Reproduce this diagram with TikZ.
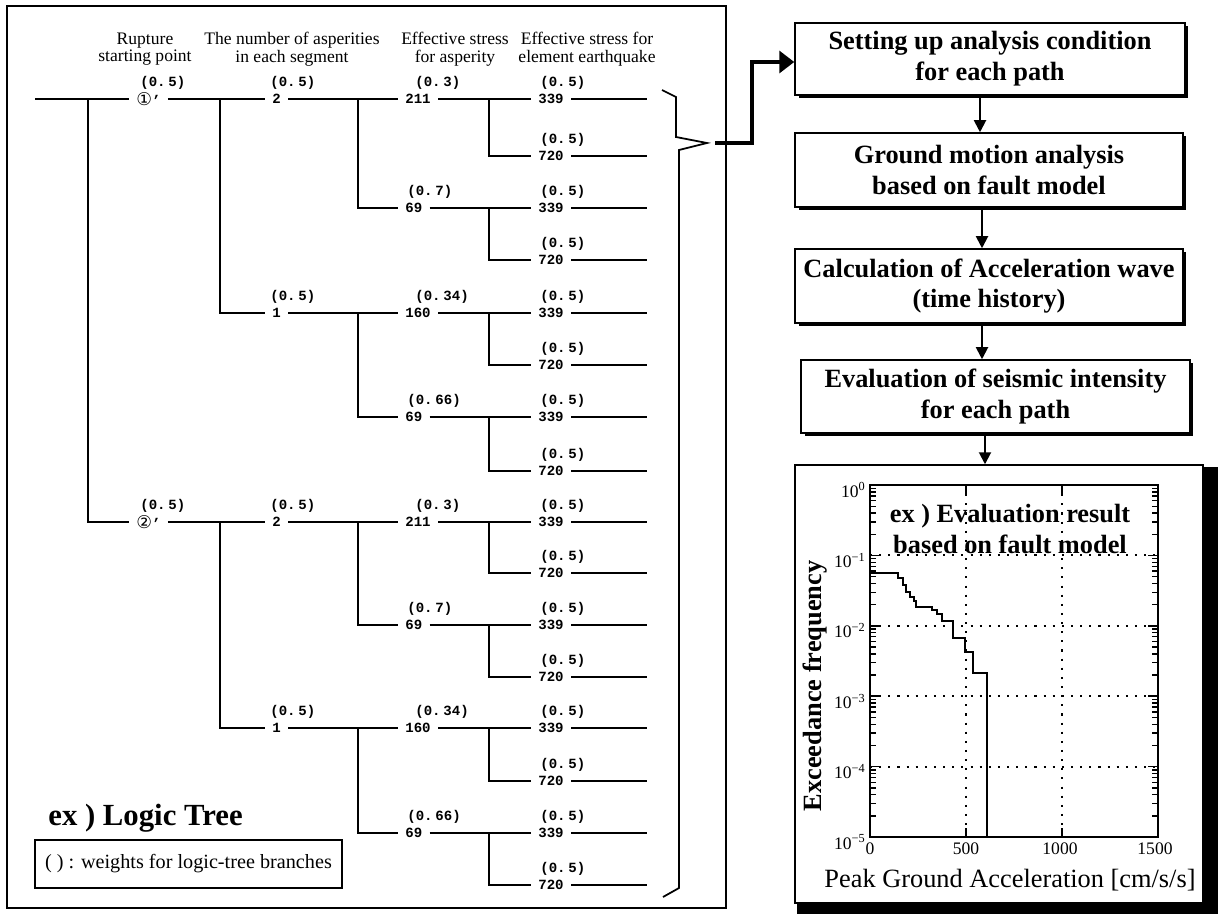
\documentclass[tikz,border=0pt]{standalone}
\usepackage{fontspec}
\setmainfont{Liberation Serif}
\newfontfamily\treefont{Liberation Mono}
\newfontfamily\circfont{DejaVu Sans}
\usetikzlibrary{arrows.meta,shadows}

% value node with its weight label above
\newcommand\treenode[6]{%
  \node[val] (#1) at ({#2-7},#3) {#4};
  \node[wt] (#1w) at ({#2+#6},{#3-16}) {(0.\kern.2em#5)};
}
\newcommand\circnum[1]{{\circfont\mdseries\fontsize{10}{10}\selectfont #1}’}

\begin{document}
\begin{tikzpicture}[x=0.02cm,y=-0.02cm,
  treeline/.style={line width=1.1pt},
  val/.style={font={\treefont\bfseries\fontsize{8}{9}\selectfont}, inner xsep=0.14cm, inner ysep=1pt, anchor=west},
  wt/.style={font={\treefont\bfseries\fontsize{8}{9}\selectfont}, inner sep=0pt, anchor=west},
  head/.style={font={\fontsize{10}{10}\selectfont}, align=center, inner sep=0pt},
  flowbox/.style={draw, line width=0.9pt, fill=white, align=center,
    font={\bfseries\fontsize{15}{17.5}\selectfont}, inner sep=0pt,
    drop shadow={shadow xshift=0.07cm, shadow yshift=-0.05cm, fill=black, opacity=1}},
  flowarrow/.style={line width=1.1pt, -{Triangle[length=0.24cm,width=0.24cm]}},
  bigarrow/.style={line width=2pt, -{Triangle[length=0.3cm,width=0.44cm]}},
  ticklab/.style={font={\fontsize{10}{10}\selectfont}, inner sep=0pt},
  gridline/.style={line width=1.2pt, dash pattern=on 1.2pt off 4pt},
]
\useasboundingbox (0,0) rectangle (1218,914);

% ---------------- logic tree panel ----------------
\draw[line width=0.9pt] (7,6) rectangle (726,908);

\node[head] (h1) at (145,49) {Rupture\\starting point};
\node[head] (h2) at (292,49) {The number of asperities\\in each segment};
\node[head] (h3) at (455,49) {Effective stress\\for asperity};
\node[head] (h4) at (587,49) {Effective stress for\\element earthquake};

% bus positions and line ends
\coordinate (root) at (35,99);
\coordinate (bA) at (88,0);
\coordinate (bB) at (220,0);
\coordinate (bC) at (358,0);
\coordinate (bD) at (489,0);
\coordinate (tend) at (647,0);

% rupture starting point
\treenode{r1}{136}{99}{\circnum{①}}{5}{4}
\treenode{r2}{136}{522}{\circnum{②}}{5}{4}
% number of asperities
\treenode{n1}{272}{99}{2}{5}{-2}
\treenode{n2}{272}{313}{1}{5}{-2}
\treenode{n3}{272}{522}{2}{5}{-2}
\treenode{n4}{272}{728}{1}{5}{-2}
% effective stress for asperity
\treenode{s1}{405}{99}{211}{3}{10}
\treenode{s2}{405}{208}{69}{7}{2}
\treenode{s3}{405}{313}{160}{34}{10}
\treenode{s4}{405}{417}{69}{66}{2}
\treenode{s5}{405}{522}{211}{3}{10}
\treenode{s6}{405}{625}{69}{7}{2}
\treenode{s7}{405}{728}{160}{34}{10}
\treenode{s8}{405}{833}{69}{66}{2}
% effective stress for element earthquake
\treenode{e1}{538}{99}{339}{5}{2}
\treenode{e2}{538}{156}{720}{5}{2}
\treenode{e3}{538}{208}{339}{5}{2}
\treenode{e4}{538}{260}{720}{5}{2}
\treenode{e5}{538}{313}{339}{5}{2}
\treenode{e6}{538}{365}{720}{5}{2}
\treenode{e7}{538}{417}{339}{5}{2}
\treenode{e8}{538}{471}{720}{5}{2}
\treenode{e9}{538}{522}{339}{5}{2}
\treenode{e10}{538}{573}{720}{5}{2}
\treenode{e11}{538}{625}{339}{5}{2}
\treenode{e12}{538}{677}{720}{5}{2}
\treenode{e13}{538}{728}{339}{5}{2}
\treenode{e14}{538}{781}{720}{5}{2}
\treenode{e15}{538}{833}{339}{5}{2}
\treenode{e16}{538}{885}{720}{5}{2}

% branches
\draw[treeline] (root) -- (r1.west);
\draw[treeline] (r1.west -| bA) |- (r2.west);
\foreach \p/\a/\b in {r1/n1/n2, r2/n3/n4} {
  \draw[treeline] (\p.east) -- (\a.west);
  \draw[treeline] (\a.west -| bB) |- (\b.west);
}
\foreach \p/\a/\b in {n1/s1/s2, n2/s3/s4, n3/s5/s6, n4/s7/s8} {
  \draw[treeline] (\p.east) -- (\a.west);
  \draw[treeline] (\a.west -| bC) |- (\b.west);
}
\foreach \p/\a/\b in {s1/e1/e2, s2/e3/e4, s3/e5/e6, s4/e7/e8,
                      s5/e9/e10, s6/e11/e12, s7/e13/e14, s8/e15/e16} {
  \draw[treeline] (\p.east) -- (\a.west);
  \draw[treeline] (\a.west -| bD) |- (\b.west);
}
\foreach \i in {1,...,16} {
  \draw[treeline] (e\i.east) -- (e\i.east -| tend);
}

% brace collecting all paths
\draw[line width=1pt] (662,90) -- (676,97) -- (676,137) -- (707,143)
  -- (679,150) -- (679,888) -- (663,897);
\coordinate (brkout) at (715,143);

\node[font={\bfseries\fontsize{17.5}{17.5}\selectfont}, inner sep=0pt, anchor=west] (lt) at (48,818) {ex ) Logic Tree};
\node[draw, line width=0.9pt, minimum width=6.14cm, minimum height=0.96cm, inner sep=0pt,
  font={\fontsize{11.5}{11.5}\selectfont}] (legend) at (188.5,864) {( ) : weights for logic-tree branches};

% ---------------- flow of the analysis ----------------
\node[flowbox, minimum width=7.8cm, minimum height=1.44cm] (b1) at (990,59) {Setting up analysis condition\\for each path};
\node[flowbox, minimum width=7.76cm, minimum height=1.48cm] (b2) at (989,170) {Ground motion analysis\\based on fault model};
\node[flowbox, minimum width=7.76cm, minimum height=1.48cm] (b3) at (989,286) {Calculation of Acceleration wave\\(time history)};
\node[flowbox, minimum width=7.78cm, minimum height=1.46cm] (b4) at (995.5,396.5) {Evaluation of seismic intensity\\for each path};

\draw[bigarrow] (brkout) -- ++(37,0) |- ([yshift=-0.06cm]b1.west);

% result panel with heavy shadow
\fill (797,467) rectangle (1218,914);
\node[draw, line width=0.9pt, fill=white, minimum width=8.16cm, minimum height=8.76cm, inner sep=0pt] (pbox) at (999,684) {};

\draw[flowarrow] ([xshift=-0.2cm]b1.south) -- ([xshift=-0.2cm]b1.south |- b2.north);
\draw[flowarrow] ([xshift=-0.14cm]b2.south) -- ([xshift=-0.14cm]b2.south |- b3.north);
\draw[flowarrow] ([xshift=-0.14cm]b3.south) -- ([xshift=-0.14cm]b3.south |- b4.north);
\draw[flowarrow] ([xshift=-0.21cm]b4.south) -- ([xshift=-0.21cm]b4.south |- pbox.north);

% plot grid
\foreach \yy in {555.4,625.8,696.2,766.6} \draw[gridline] (870,\yy) -- (1158,\yy);
\foreach \xx in {966,1062} \draw[gridline] (\xx,485) -- (\xx,837);

% log ticks on both vertical axes
\foreach \d in {0,...,4} {
  \foreach \k in {2,...,9} {
    \pgfmathsetmacro\yy{485+70.4*(\d+1-ln(\k)/ln(10))}
    \draw[line width=0.8pt] (870,\yy) -- (876,\yy);
    \draw[line width=0.8pt] (1158,\yy) -- (1152,\yy);
  }
}
\foreach \d in {1,...,4} {
  \draw[line width=0.9pt] (870,{485+70.4*\d}) -- (880,{485+70.4*\d});
  \draw[line width=0.9pt] (1158,{485+70.4*\d}) -- (1148,{485+70.4*\d});
}
\foreach \xx in {966,1062} {
  \draw[line width=0.9pt] (\xx,837) -- (\xx,828);
  \draw[line width=0.9pt] (\xx,485) -- (\xx,494);
}
\draw[line width=1pt] (870,485) rectangle (1158,837);

% exceedance curve
\draw[line width=1.1pt] plot coordinates {
  (870,573) (898,573) (898,578) (903,578) (903,585) (906,585) (906,592)
  (910,592) (910,597) (914,597) (914,601) (916,601) (916,607) (932,607)
  (932,610) (937,610) (937,614) (942,614) (942,621) (953,621) (953,638)
  (965,638) (965,652) (973,652) (973,673) (987,673) (987,837)};

% axis labels
\foreach \d in {0,...,5} {
  \node[ticklab, anchor=east] (yt\d) at (866,{485+70.4*\d+5}) {10\textsuperscript{\ifnum\d=0 0\else −\d\fi}};
}
\node[ticklab] (xt0) at (870,849) {0};
\node[ticklab] (xt1) at (966,849) {500};
\node[ticklab] (xt2) at (1060,849) {1000};
\node[ticklab] (xt3) at (1155,849) {1500};

\node[font={\bfseries\fontsize{15}{18}\selectfont}, align=center, inner sep=0pt] (ptitle) at (1010,529) {ex ) Evaluation result\\based on fault model};
\node[font={\fontsize{15}{15}\selectfont}, inner sep=0pt] (xlab) at (1010,880) {Peak Ground Acceleration [cm/s/s]};
\node[font={\bfseries\fontsize{15}{15}\selectfont}, rotate=90, inner sep=0pt] (ylab) at (815,686) {Exceedance frequency};
\end{tikzpicture}
\end{document}
